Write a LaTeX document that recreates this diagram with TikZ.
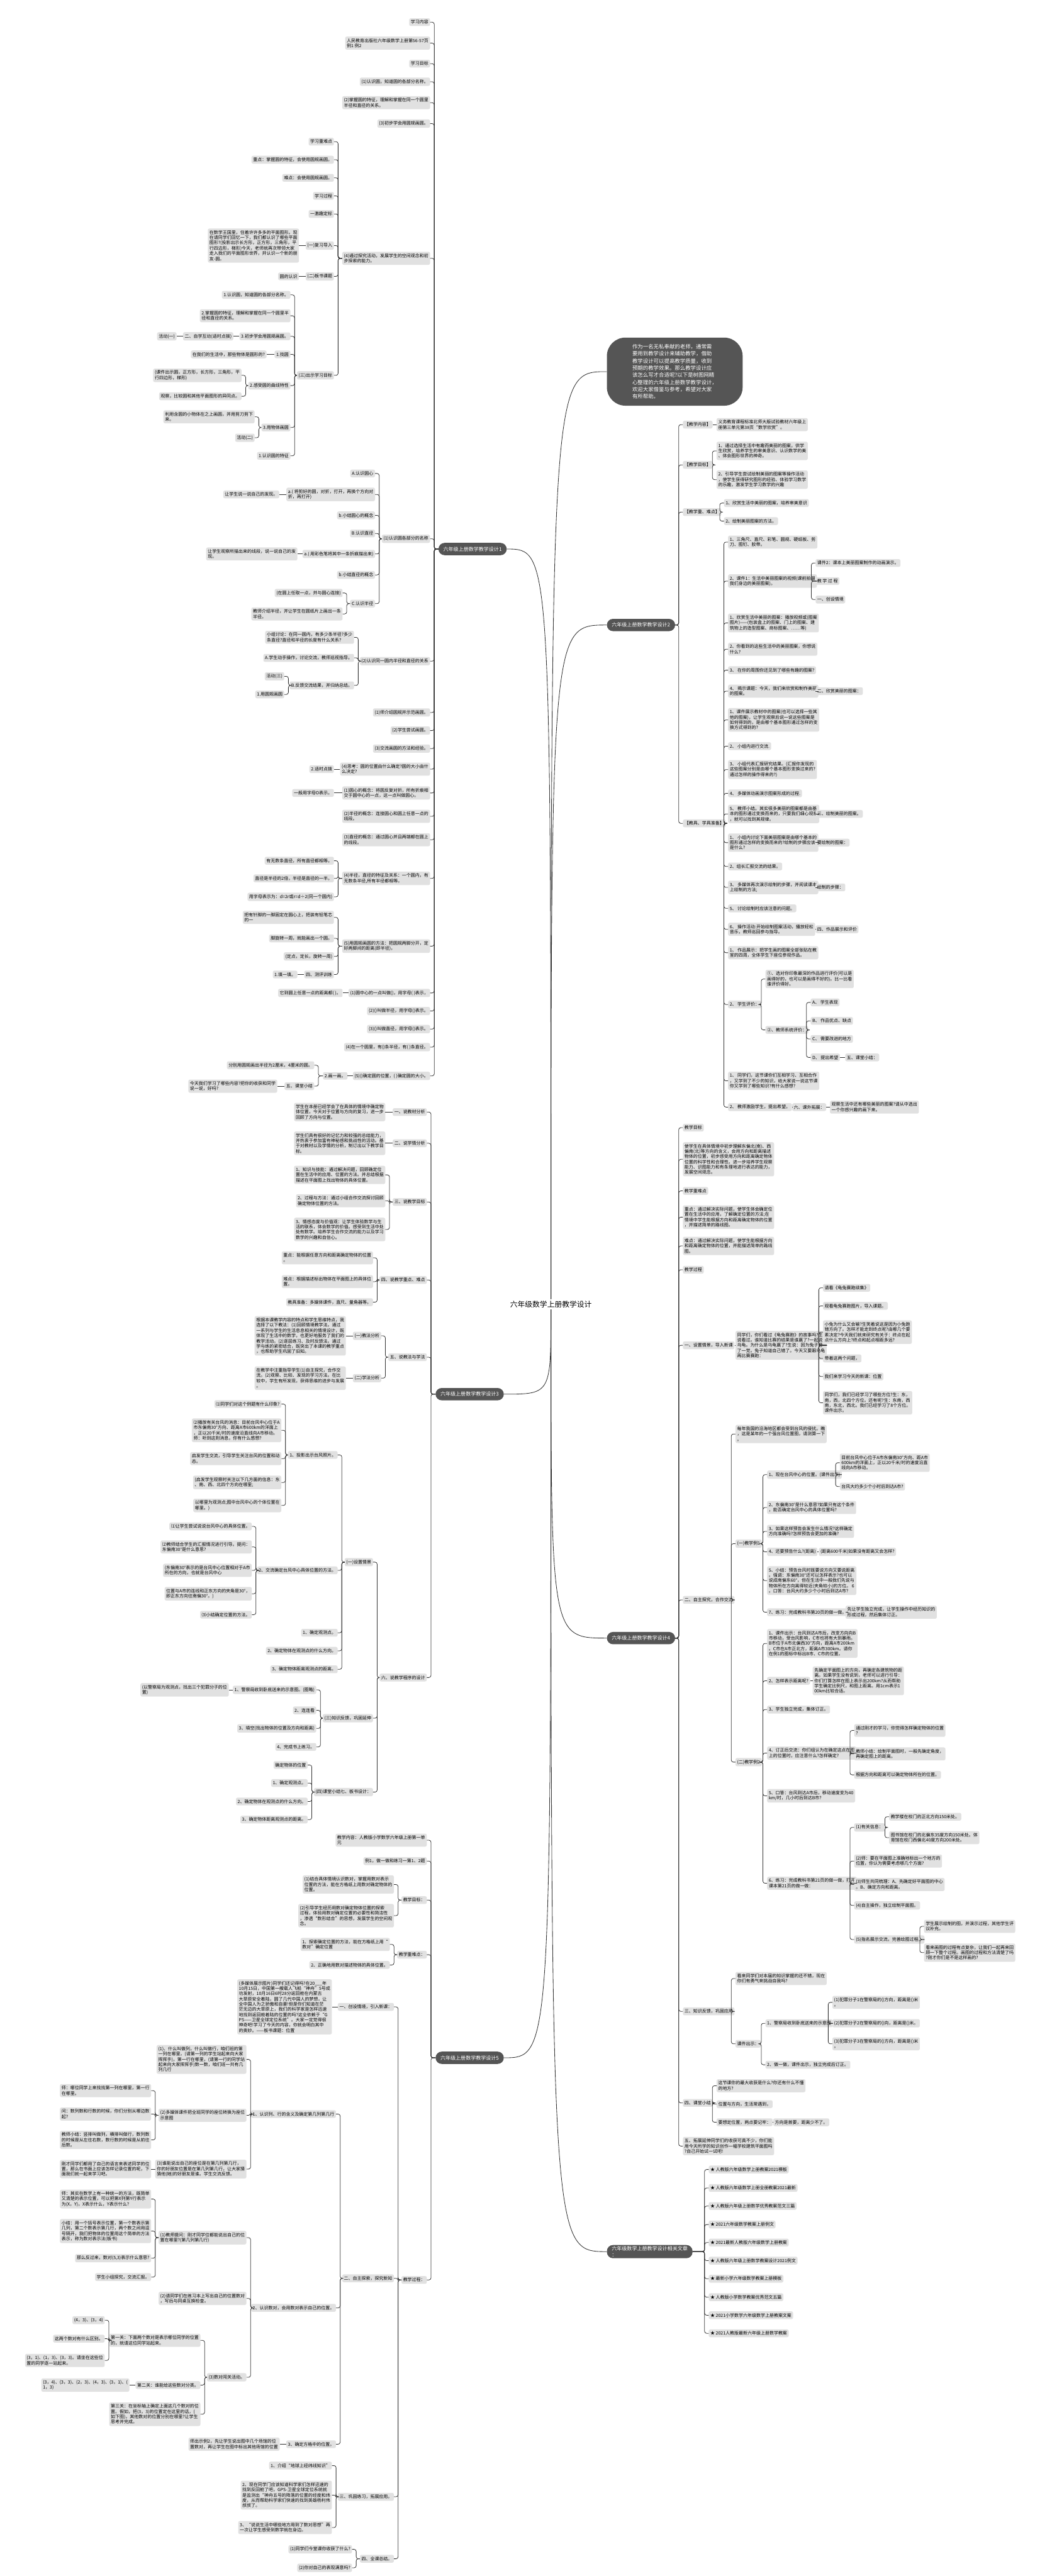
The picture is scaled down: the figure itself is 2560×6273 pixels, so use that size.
\documentclass[tikz,border=0pt]{standalone}
\usepackage{fontspec}
\setmainfont{Noto Sans CJK SC}
\usetikzlibrary{positioning}
\definecolor{boxgray}{HTML}{E1E1E1}
\definecolor{topicgray}{HTML}{555555}
\definecolor{linegray}{HTML}{333333}
\tikzset{
  lt/.style={fill=boxgray, rounded corners=4pt, align=left, anchor=east,
    inner xsep=4pt, inner ysep=4.5pt, font=\fontsize{10.7}{12.8}\selectfont},
  rt/.style={lt, anchor=west},
  topic/.style={fill=topicgray, text=white, rounded corners=15pt, align=left,
    anchor=west, minimum height=30pt, inner xsep=12pt, font=\fontsize{12.3}{15}\selectfont},
  note/.style={fill=topicgray, text=white, rounded corners=45pt, align=left,
    anchor=west, inner xsep=62pt, inner ysep=16pt, font=\fontsize{12.9}{17.4}\selectfont},
  hub/.style={inner sep=4pt, font=\fontsize{18}{22}\selectfont},
  lk/.style={draw=linegray, line width=1.2pt, rounded corners=5pt},
  trunk/.style={draw=linegray, line width=1.3pt},
}
\begin{document}
\begin{tikzpicture}[x=1pt, y=-1pt]
\fill[white] (0,0) rectangle (2560,6273);
\useasboundingbox (0,0) rectangle (2560,6273);

\node[hub] (hub) at (1341,3176) {六年级数学上册教学设计};

% ---------- intro ----------
\node[note] (dZ) at (1477,905) {作为一名无私奉献的老师，通常需\\要用到教学设计来辅助教学，借助\\教学设计可以提高教学质量，收到\\预期的教学效果。那么教学设计应\\该怎么写才合适呢?以下是树图网精\\心整理的六年级上册数学教学设计，\\欢迎大家借鉴与参考，希望对大家\\有所帮助。};

% ---------- design 1 (left) ----------
\node[topic] (dA) at (1067,1337) {六年级上册数学教学设计1};
\node[lt] (a1) at (1047,54) {学习内容};
\node[lt] (a2) at (1047,105) {人民教育出版社六年级数学上册第56-57页\\例1 例2};
\node[lt] (a3) at (1047,155) {学习目标};
\node[lt] (a4) at (1047,199) {(1)认识圆，知道圆的各部分名称。};
\node[lt] (a5) at (1047,250) {(2)掌握圆的特征，理解和掌握在同一个圆里\\半径和直径的关系。};
\node[lt] (a6) at (1047,301) {(3)初步学会用圆规画圆。};
\node[lt] (a7) at (1047,629) {(4)通过探究活动，发展学生的空间观念和初\\步探索的能力。};
\node[lt] (a7a) at (813,345) {学习重难点};
\node[lt] (a7b) at (813,389) {重点：掌握圆的特征，会使用圆规画圆。};
\node[lt] (a7c) at (813,433) {难点：会使用圆规画圆。};
\node[lt] (a7d) at (813,477) {学习过程};
\node[lt] (a7e) at (813,521) {一激趣定标};
\node[lt] (a7f) at (813,598) {(一)复习导入};
\node[lt] (a7f1) at (728,598) {在数学王国里，住着许许多多的平面图形。现\\在请同学们回忆一下，我们都认识了哪些平面\\图形?(投影出示长方形，正方形，三角形，平\\行四边形，梯形)今天，老师就再次带领大家\\走入我们的平面图形世界，并认识一个新的朋\\友-圆。};
\node[lt] (a7g) at (813,673) {(二)板书课题};
\node[lt] (a7g1) at (728,673) {圆的认识};
\node[lt] (a7h) at (813,914) {(三)出示学习目标};
\node[lt] (h1) at (707,718) {1.认识圆，知道圆的各部分名称。};
\node[lt] (h2) at (707,769) {2.掌握圆的特征，理解和掌握在同一个圆里半\\径和直径的关系。};
\node[lt] (h3) at (707,819) {3.初步学会用圆规画圆。};
\node[lt] (h3a) at (568,819) {二、自学互动(适时点拨)};
\node[lt] (h3b) at (430,819) {活动(一)};
\node[lt] (h4) at (707,863) {1.找圆};
\node[lt] (h4a) at (649,863) {在我们的生活中，那些物体是圆形的?};
\node[lt] (h5) at (707,939) {2.感受圆的曲线特性};
\node[lt] (h5a) at (588,914) {(课件出示圆，正方形，长方形，三角形，平\\行四边形，梯形)};
\node[lt] (h5b) at (588,965) {观察，比较圆和其他平面图形的异同点。};
\node[lt] (h6) at (707,1041) {3.用物体画圆};
\node[lt] (h6a) at (620,1015) {利用含圆的小物体在之上画圆，并用剪刀剪下\\来。};
\node[lt] (h6b) at (620,1066) {活动(二)};
\node[lt] (h7) at (707,1110) {1.认识圆的特征};
\node[lt] (a8) at (1047,1312) {(1)认识圆各部分的名称};
\node[lt] (b1) at (913,1153) {A.认识圆心};
\node[lt] (b2) at (913,1204) {a.( 将剪好的圆，对折，打开，再换个方向对\\折，再打开)};
\node[lt] (b2a) at (680,1204) {让学生说一说自己的发现。};
\node[lt] (b3) at (913,1255) {b.小结圆心的概念};
\node[lt] (b4) at (913,1299) {B.认识直径};
\node[lt] (b5) at (913,1349) {a.( 用彩色笔将其中一条折痕描出来)};
\node[lt] (b5a) at (724,1349) {让学生观察所描出来的线段，说一说自己的发\\现。};
\node[lt] (b6) at (913,1400) {b.小结直径的概念};
\node[lt] (b7) at (913,1470) {C.认识半径};
\node[lt] (b7a) at (834,1444) {(在圆上任取一点，并与圆心连接)};
\node[lt] (b7b) at (834,1495) {教师介绍半径，并让学生在圆纸片上画出一条\\半径。};
\node[lt] (a9) at (1047,1610) {(2)认识同一圆内半径和直径的关系};
\node[lt] (c1) at (862,1552) {小组讨论：在同一圆内，有多少条半径?多少\\条直径?直径和半径的长度有什么关系?};
\node[lt] (c2) at (862,1602) {A.学生动手操作，讨论交流，教师巡视指导。};
\node[lt] (c3) at (862,1669) {B.反馈交流结果，并归纳总结。};
\node[lt] (c3a) at (692,1647) {活动(三)};
\node[lt] (c3b) at (692,1691) {1.用圆规画圆};
\node[lt] (a10) at (1047,1735) {(1)师介绍圆规并示范画圆。};
\node[lt] (a11) at (1047,1779) {(2)学生尝试画圆。};
\node[lt] (a12) at (1047,1823) {(3)交流画圆的方法和经验。};
\node[lt] (a13) at (1047,1873) {(4)思考：圆的位置由什么确定?圆的大小由什\\么决定?};
\node[lt] (a13a) at (813,1873) {2.适时点拨};
\node[lt] (a14) at (1047,1931) {(1)圆心的概念：将圆反复对折，所有折痕相\\交于圆中心的一点，这一点叫做圆心。};
\node[lt] (a14a) at (813,1931) {一般用字母O表示。};
\node[lt] (a15) at (1047,1988) {(2)半径的概念：连接圆心和圆上任意一点的\\线段。};
\node[lt] (a16) at (1047,2045) {(3)直径的概念：通过圆心并且两端都在圆上\\的线段。};
\node[lt] (a17) at (1047,2139) {(4)半径，直径的特征及关系：一个圆内，有\\无数条半径,所有半径都相等。};
\node[lt] (a17a) at (813,2096) {有无数条直径，所有直径都相等。};
\node[lt] (a17b) at (813,2139) {直径是半径的2倍，半径是直径的一半。};
\node[lt] (a17c) at (813,2184) {用字母表示为：d=2r或r=d÷2(同一个圆内)};
\node[lt] (a18) at (1047,2304) {(5)用圆规画圆的方法：把圆规两脚分开，定\\好两脚间的距离(即半径)，};
\node[lt] (a18a) at (813,2234) {把有针脚的一脚固定在圆心上，把装有铅笔芯\\的一};
\node[lt] (a18b) at (813,2285) {脚旋转一周，就能画出一个圆。};
\node[lt] (a18c) at (813,2329) {(定点，定长，旋转一周)};
\node[lt] (a18d) at (813,2373) {四、测评训练};
\node[lt] (a18e) at (724,2373) {1.填一填。};
\node[lt] (a19) at (1047,2418) {(1)圆中心的一点叫做()，用字母( )表示，};
\node[lt] (a19a) at (834,2418) {它到圆上任意一点的距离都( )。};
\node[lt] (a20) at (1047,2462) {(2)()叫做半径，用字母()表示。};
\node[lt] (a21) at (1047,2506) {(3)()叫做直径，用字母()表示。};
\node[lt] (a22) at (1047,2550) {(4)在一个圆里，有()条半径，有( )条直径。};
\node[lt] (a23) at (1047,2620) {(5)()确定圆的位置，( )确定圆的大小。};
\node[lt] (a23a) at (846,2620) {2.画一画。};
\node[lt] (a23b) at (765,2594) {分别用圆规画出半径为2厘米，4厘米的圆。};
\node[lt] (a23c) at (765,2645) {五、课堂小结};
\node[lt] (a23d) at (675,2645) {今天我们学习了哪些内容?把你的收获和同学\\说一说，好吗?};

\foreach \k in {a1,a2,a3,a4,a5,a6,a7,a8,a9,a10,a11,a12,a13,a14,a15,a16,a17,a18,a19,a20,a21,a22,a23}
  \draw[lk] (dA.west) -| ([xshift=10pt]\k.east) -- (\k.east);
\foreach \k in {a7a,a7b,a7c,a7d,a7e,a7f,a7g,a7h}
  \draw[lk] (a7.west) -| ([xshift=10pt]\k.east) -- (\k.east);
\foreach \k in {h1,h2,h3,h4,h5,h6,h7}
  \draw[lk] (a7h.west) -| ([xshift=10pt]\k.east) -- (\k.east);
\foreach \k in {b1,b2,b3,b4,b5,b6,b7}
  \draw[lk] (a8.west) -| ([xshift=10pt]\k.east) -- (\k.east);
\foreach \k in {c1,c2,c3}
  \draw[lk] (a9.west) -| ([xshift=10pt]\k.east) -- (\k.east);
\foreach \k in {h5a,h5b} \draw[lk] (h5.west) -| ([xshift=10pt]\k.east) -- (\k.east);
\foreach \k in {h6a,h6b} \draw[lk] (h6.west) -| ([xshift=10pt]\k.east) -- (\k.east);
\foreach \k in {b7a,b7b} \draw[lk] (b7.west) -| ([xshift=10pt]\k.east) -- (\k.east);
\foreach \k in {c3a,c3b} \draw[lk] (c3.west) -| ([xshift=10pt]\k.east) -- (\k.east);
\foreach \k in {a17a,a17b,a17c} \draw[lk] (a17.west) -| ([xshift=10pt]\k.east) -- (\k.east);
\foreach \k in {a18a,a18b,a18c,a18d} \draw[lk] (a18.west) -| ([xshift=10pt]\k.east) -- (\k.east);
\foreach \k in {a23b,a23c} \draw[lk] (a23a.west) -| ([xshift=10pt]\k.east) -- (\k.east);
\foreach \p/\k in {a7f/a7f1,a7g/a7g1,h3/h3a,h3a/h3b,h4/h4a,b2/b2a,b5/b5a,a13/a13a,a14/a14a,a18d/a18e,a19/a19a,a23/a23a,a23c/a23d}
  \draw[lk] (\p.west) -- (\k.east);

% ---------- design 3 (left) ----------
\node[topic] (dC) at (1060,3395) {六年级上册数学教学设计3};
\node[lt] (e1) at (1039,2708) {一、说教材分析};
\node[lt] (e1a) at (938,2708) {学生在本册已经学会了在具体的情境中确定物\\体位置，今天对于位置与方向的复习，进一步\\回顾了方向与位置。};
\node[lt] (e2) at (1039,2784) {二、说学情分析};
\node[lt] (e2a) at (938,2784) {学生们具有很好的记忆力和较强的总结能力，\\并热衷于参加富有神秘感和挑战性的活动。基\\于对教材以及学情的分析，制订出以下教学目\\标。};
\node[lt] (e3) at (1039,2927) {三、说教学目标};
\node[lt] (e3a) at (938,2861) {1、知识与技能：通过解决问题，回顾确定位\\置在生活中的应用、位置的方法。并总结根据\\描述在平面图上找出物体的具体位置。};
\node[lt] (e3b) at (938,2924) {2、过程与方法：通过小组合作交流探讨回顾\\确定物体位置的方法。};
\node[lt] (e3c) at (938,2994) {3、情感态度与价值观：让学生体验数学与生\\活的联系，体会数学的价值。感受到生活中处\\处有数学。培养学生合作交流的能力以及学习\\数学的兴趣和自信心。};
\node[lt] (e4) at (1039,3117) {四、说教学重点、难点};
\node[lt] (e4a) at (908,3063) {重点：能根据任意方向和距离确定物体的位置\\。};
\node[lt] (e4b) at (908,3121) {难点：根据描述标出物体在平面图上的具体位\\置。};
\node[lt] (e4c) at (908,3171) {教具准备：多媒体课件，直尺、量角器等。};
\node[lt] (e5) at (1039,3305) {五、说教法与学法};
\node[lt] (e5a) at (928,3253) {(一)教法分析};
\node[lt] (e5a1) at (842,3253) {根据本课教学内容的特点和学生思维特点，我\\选择了以下教法：(1)回顾情境教学法。通过\\一系列与学生的生活息息相关的情境设计，既\\体现了生活中的数学，也更好地服务了我们的\\教学活动。(2)逐层练习、及时反馈法。通过\\学与练的紧密结合，既突出了本课的教学重点\\，也帮助学生巩固了旧知。};
\node[lt] (e5b) at (928,3356) {(二)学法分析};
\node[lt] (e5b1) at (842,3356) {在教学中注重指导学生(1)自主探究，合作交\\流。(2)观察、比较、发现的学习方法。在比\\较中，学生有所发现，获得思维的进步与发展\\。};
\node[lt] (e6) at (1039,4085) {六、说教学程序的设计};
\node[lt] (f1) at (908,3804) {(一)设置情景};
\node[lt] (f1a) at (822,3543) {1、投影出示台风照片。};
\node[lt] (f1a1) at (685,3419) {⑴同学们对这个例题有什么印象?};
\node[lt] (f1a2) at (685,3483) {⑵播放有关台风的消息：目前台风中心位于A\\市东偏南30°方向、距离A市600km的洋面上\\，正以20千米/时的速度沿直线向A市移动。\\师：听到这则消息，你有什么感想?};
\node[lt] (f1a3) at (685,3552) {启发学生交流，引导学生关注台风的位置和动\\态。};
\node[lt] (f1a4) at (685,3610) {(启发学生观察时关注以下几方面的信息：东\\、南、西、北四个方向在哪里;};
\node[lt] (f1a5) at (685,3666) {以哪里为观测点;图中台风中心的个体位置在\\哪里。)};
\node[lt] (f1b) at (822,3824) {2、交流确定台风中心具体位置的方法。};
\node[lt] (f1b1) at (613,3717) {⑴让学生尝试说说台风中心的具体位置。};
\node[lt] (f1b2) at (613,3767) {⑵教师结合学生的汇报情况进行引导。提问：\\东偏南30°是什么意思?};
\node[lt] (f1b3) at (613,3824) {(东偏南30°表示的是台风中心位置相对于A市\\所在的方向，也就是台风中心};
\node[lt] (f1b4) at (613,3881) {位置与A市的连线和正东方向的夹角是30°，\\即正东方向往南偏30°。)};
\node[lt] (f1b5) at (613,3932) {⑶小结确定位置的方法。};
\node[lt] (f1c) at (822,3976) {1、确定观测点。};
\node[lt] (f1d) at (822,4020) {2、确定物体在观测点的什么方向。};
\node[lt] (f1e) at (822,4065) {3、确定物体距离观测点的距离。};
\node[lt] (f2) at (908,4184) {(三)知识反馈，巩固延伸};
\node[lt] (f2a) at (770,4115) {1、警察局收到卧底送来的示意图。(图略)};
\node[lt] (f2a1) at (557,4115) {(以警察局为观测点，找出三个犯罪分子的位\\置)};
\node[lt] (f2b) at (770,4165) {2、连连看};
\node[lt] (f2c) at (770,4209) {3、填空(找出物体的位置及方向和距离)};
\node[lt] (f2d) at (770,4254) {4、完成书上练习。};
\node[lt] (f3) at (908,4364) {(四)课堂小结七、板书设计：};
\node[lt] (f3a) at (749,4298) {确定物体的位置};
\node[lt] (f3b) at (749,4342) {1、确定观测点。};
\node[lt] (f3c) at (749,4387) {2、确定物体在观测点的什么方向。};
\node[lt] (f3d) at (749,4431) {3、确定物体距离观测点的距离。};

\foreach \k in {e1,e2,e3,e4,e5,e6}
  \draw[lk] (dC.west) -| ([xshift=10pt]\k.east) -- (\k.east);
\foreach \k in {e3a,e3b,e3c} \draw[lk] (e3.west) -| ([xshift=10pt]\k.east) -- (\k.east);
\foreach \k in {e4a,e4b,e4c} \draw[lk] (e4.west) -| ([xshift=10pt]\k.east) -- (\k.east);
\foreach \k in {e5a,e5b} \draw[lk] (e5.west) -| ([xshift=10pt]\k.east) -- (\k.east);
\foreach \k in {f1,f2,f3} \draw[lk] (e6.west) -| ([xshift=10pt]\k.east) -- (\k.east);
\foreach \k in {f1a,f1b,f1c,f1d,f1e} \draw[lk] (f1.west) -| ([xshift=10pt]\k.east) -- (\k.east);
\foreach \k in {f1a1,f1a2,f1a3,f1a4,f1a5} \draw[lk] (f1a.west) -| ([xshift=10pt]\k.east) -- (\k.east);
\foreach \k in {f1b1,f1b2,f1b3,f1b4,f1b5} \draw[lk] (f1b.west) -| ([xshift=10pt]\k.east) -- (\k.east);
\foreach \k in {f2a,f2b,f2c,f2d} \draw[lk] (f2.west) -| ([xshift=10pt]\k.east) -- (\k.east);
\foreach \k in {f3a,f3b,f3c,f3d} \draw[lk] (f3.west) -| ([xshift=10pt]\k.east) -- (\k.east);
\foreach \p/\k in {e1/e1a,e2/e2a,e5a/e5a1,e5b/e5b1,f2a/f2a1}
  \draw[lk] (\p.west) -- (\k.east);

% ---------- design 5 (left) ----------
\node[topic] (dE) at (1060,5011) {六年级上册数学教学设计5};
\node[lt] (g1) at (1039,4481) {教学内容：人教版小学数学六年级上册第一单\\元};
\node[lt] (g2) at (1039,4532) {例1，做一做和练习一第1、2题};
\node[lt] (g3) at (1039,4627) {教学目标：};
\node[lt] (g3a) at (959,4589) {(1)结合具体情境认识数对，掌握用数对表示\\位置的方法，能在方格纸上用数对确定物体的\\位置。};
\node[lt] (g3b) at (959,4665) {(2)引导学生经历用数对确定物体位置的探索\\过程，体验用数对确定位置的必要性和简洁性\\，渗透“数形结合”的思想，发展学生的空间观\\念。};
\node[lt] (g4) at (1039,4760) {教学重难点：};
\node[lt] (g4a) at (949,4735) {1、探索确定位置的方法，能在方格纸上用“\\数对”确定位置};
\node[lt] (g4b) at (949,4785) {2、正确地用数对描述物体的具体位置。};
\node[lt] (g5) at (1039,5552) {教学过程：};
\node[lt] (p1) at (959,4887) {一、创设情境，引入新课：};
\node[lt] (p1a) at (808,4887) {(多媒体展示图片)同学们还记得吗?在20\_\_\_年\\10月15日，中国第一艘载人飞船“神舟”5号成\\功发射，10月16日6时28分返回舱在内蒙古\\大草原安全着陆，圆了几代中国人的梦想，让\\全中国人为之骄傲和自豪!但是你们知道在茫\\茫无边的大草原上，我们的科学家是怎样迅速\\地找到返回舱着陆的位置的吗?这全依赖于“G\\PS——卫星全球定位系统”。大家一定觉得很\\神奇吧!学习了今天的内容，你就会明白其中\\的奥妙。——板书课题：位置};
\node[lt] (p2) at (959,5548) {二、自主探索，探究新知};
\node[lt] (q1) at (818,5148) {1、认识列、行的含义及确定第几列第几行};
\node[lt] (q1a) at (600,5015) {(1)、什么叫做列，什么叫做行，咱们班的第\\一列在哪里，(请第一列的学生站起来向大家\\挥挥手)，第一行在哪里，(请第一行的同学站\\起来向大家挥挥手)数一数，咱们班一共有几\\列几行};
\node[lt] (q1b) at (600,5151) {(2)多媒体课件把全班同学的座位转换为座位\\示意图};
\node[lt] (q1b1) at (368,5091) {师：哪位同学上来找找第一列在哪里，第一行\\在哪里。};
\node[lt] (q1b2) at (368,5148) {问：数列数和行数的时候，你们分别从哪边数\\起?};
\node[lt] (q1b3) at (368,5211) {教师小结：竖排叫做列，横排叫做行，数列数\\的时候是从左往右数，数行数的时候是从前往\\后数。};
\node[lt] (q1c) at (600,5282) {(3)谁能说出自己的座位是在第几列第几行，\\你的好朋友位置是在第几列第几行，让大家猜\\猜他(她)的好朋友是谁。学生交流反馈。};
\node[lt] (q1c1) at (368,5282) {刚才同学们都用了自己的语言来表述同学的位\\置，那么在书面上应该怎样记录位置的呢，下\\面我们就一起来学习吧。};
\node[lt] (q2) at (818,5620) {2、认识数对，会用数对表示自己的位置。};
\node[lt] (q2a) at (600,5449) {(1)教师提问：刚才同学位都能说出自己的位\\置在哪里?(第几列第几行)};
\node[lt] (q2a1) at (368,5355) {师：其实在数学上有一种统一的方法，既简单\\又清楚的表示位置，可以把第X列第Y行表示\\为(X，Y)，X表示什么，Y表示什么?};
\node[lt] (q2a2) at (368,5433) {小结：用一个括号表示位置，第一个数表示第\\几列，第二个数表示第几行，两个数之间用逗\\号隔开，我们把物体的位置用这个简单的方法\\表示，称为数对表示法(板书)};
\node[lt] (q2a3) at (368,5499) {那么反过来，数对(5,3)表示什么意思?};
\node[lt] (q2a4) at (368,5545) {学生小组探究，交流汇报。};
\node[lt] (q2b) at (600,5597) {(2)请同学们在练习本上写出自己的位置数对\\，写后与同桌互换检查。};
\node[lt] (q2c) at (600,5789) {(3)数对闯关活动。};
\node[lt] (q2c1) at (488,5699) {第一关：下面两个数对是表示哪位同学的位置\\的，就请这位同学站起来。};
\node[lt] (q2c1a) at (255,5650) {(4，3)、(3，4)};
\node[lt] (q2c1b) at (255,5695) {这两个数对有什么区别。};
\node[lt] (q2c1c) at (255,5748) {(3，1)、(1，3)、(3，3)。请坐在这些位\\置的同学逐一站起来。};
\node[lt] (q2c2) at (488,5808) {第二关：谁能给这些数对分类。};
\node[lt] (q2c2a) at (315,5808) {(3，4)、(3，3)、(2，3)、(4，3)、(3，1)、(\\1，3)};
\node[lt] (q2c3) at (488,5879) {第三关：在坐标轴上确定上面这几个数对的位\\置。假如，把(3，3)的位置定在这里的话，(\\如下图)，其他数对的位置分别在哪里?让学生\\思考并完成。};
\node[lt] (q3) at (818,5952) {3、确定方格中的位置。};
\node[lt] (q3a) at (681,5952) {师出示例2，先让学生说出图中几个场馆的位\\置数对，再让学生在图中标出其他场馆的位置};
\node[lt] (p3) at (959,6080) {三、巩固练习，拓展应用。};
\node[lt] (p3a) at (808,6004) {1、介绍“地球上经纬线知识”};
\node[lt] (p3b) at (808,6076) {2、现在同学门应该知道科学家们怎样迅速的\\找到反回舱了吧，GPS-卫星全球定位系统就\\是监测出“神舟五号的降落的位置的经度和纬\\度，从而帮助科学家们快速的找到英雄杨利伟\\叔叔了。};
\node[lt] (p3c) at (808,6155) {3、“说说生活中哪些地方用到了数对思想”再\\一次让学生感受到数学就在身边。};
\node[lt] (p4) at (959,6231) {四、全课总结。};
\node[lt] (p4a) at (857,6208) {(1)同学们今堂课你收获了什么?};
\node[lt] (p4b) at (857,6253) {(2)你对自己的表现满意吗?};

\foreach \k in {g1,g2,g3,g4,g5}
  \draw[lk] (dE.west) -| ([xshift=10pt]\k.east) -- (\k.east);
\foreach \k in {g3a,g3b} \draw[lk] (g3.west) -| ([xshift=10pt]\k.east) -- (\k.east);
\foreach \k in {g4a,g4b} \draw[lk] (g4.west) -| ([xshift=10pt]\k.east) -- (\k.east);
\foreach \k in {p1,p2,p3,p4} \draw[lk] (g5.west) -| ([xshift=10pt]\k.east) -- (\k.east);
\foreach \k in {q1,q2,q3} \draw[lk] (p2.west) -| ([xshift=10pt]\k.east) -- (\k.east);
\foreach \k in {q1a,q1b,q1c} \draw[lk] (q1.west) -| ([xshift=10pt]\k.east) -- (\k.east);
\foreach \k in {q1b1,q1b2,q1b3} \draw[lk] (q1b.west) -| ([xshift=10pt]\k.east) -- (\k.east);
\foreach \k in {q2a,q2b,q2c} \draw[lk] (q2.west) -| ([xshift=10pt]\k.east) -- (\k.east);
\foreach \k in {q2a1,q2a2,q2a3,q2a4} \draw[lk] (q2a.west) -| ([xshift=10pt]\k.east) -- (\k.east);
\foreach \k in {q2c1,q2c2,q2c3} \draw[lk] (q2c.west) -| ([xshift=10pt]\k.east) -- (\k.east);
\foreach \k in {q2c1a,q2c1b,q2c1c} \draw[lk] (q2c1.west) -| ([xshift=10pt]\k.east) -- (\k.east);
\foreach \k in {p3a,p3b,p3c} \draw[lk] (p3.west) -| ([xshift=10pt]\k.east) -- (\k.east);
\foreach \k in {p4a,p4b} \draw[lk] (p4.west) -| ([xshift=10pt]\k.east) -- (\k.east);
\foreach \p/\k in {p1/p1a,q1c/q1c1,q2c2/q2c2a,q3/q3a}
  \draw[lk] (\p.west) -- (\k.east);

% ---------- design 2 (right) ----------
\node[topic] (dB) at (1477,1522) {六年级上册数学教学设计2};
\node[rt] (r1) at (1662,1034) {【教学内容】};
\node[rt] (r1a) at (1744,1034) {义务教育课程标准北师大版试验教材六年级上\\册第三单元第38页“数学欣赏”。};
\node[rt] (r2) at (1662,1132) {【教学目标】};
\node[rt] (r2a) at (1744,1098) {1、通过选择生活中有趣而美丽的图案，供学\\生欣赏，培养学生的审美意识、认识数学的美\\、体会图形世界的神奇。};
\node[rt] (r2b) at (1744,1168) {2、引导学生尝试绘制美丽的图案等操作活动\\，使学生获得研究图形的经验、体验学习数学\\的乐趣，激发学生学习数学的兴趣};
\node[rt] (r3) at (1662,1247) {【教学重、难点】};
\node[rt] (r3a) at (1762,1225) {1、欣赏生活中美丽的图案，培养审美意识};
\node[rt] (r3b) at (1762,1269) {2、绘制美丽图案的方法。};
\node[rt] (r4) at (1662,2005) {【教具、学具准备】};
\node[rt] (s1) at (1772,1320) {1、三角尺、直尺、彩笔、圆规、硬纸板、剪\\刀、图钉、胶带。};
\node[rt] (s2) at (1772,1415) {2、课件1：生活中美丽图案的视频(课前拍摄\\我们身边的美丽图案)。};
\node[rt] (s2a) at (1985,1371) {课件2：课本上美丽图案制作的动画演示。};
\node[rt] (s2b) at (1985,1415) {教 学 过 程};
\node[rt] (s2c) at (1985,1460) {一、创设情境};
\node[rt] (s3) at (1772,1517) {1、欣赏生活中美丽的图案：播放视频或(图案\\图片)——(包装盒上的图案、门上的图案、建\\筑物上的造型图案、商标图案、……等)};
\node[rt] (s4) at (1772,1581) {2、你看到的这些生活中的美丽图案，你想说\\什么?};
\node[rt] (s5) at (1772,1632) {3、 在你的周围你还见到了哪些有趣的图案?};
\node[rt] (s6) at (1772,1683) {4、 揭示课题：今天，我们来欣赏和制作美丽\\的图案。};
\node[rt] (s6a) at (1985,1683) {二、欣赏美丽的图案：};
\node[rt] (s7) at (1772,1753) {1、课件展示教材中的图案(也可以选择一些其\\他的图案)，让学生观察后说一说这些图案是\\如何得到的，是由哪个基本图形通过怎样的变\\换方式得到的?};
\node[rt] (s8) at (1772,1817) {2、 小组内进行交流.};
\node[rt] (s9) at (1772,1874) {3、 小组代表汇报研究结果。(汇报你发现的\\这些图案分别是由哪个基本图形变换过来的?\\通过怎样的操作得来的?)};
\node[rt] (s10) at (1772,1932) {4、 多媒体动画演示图案形成的过程.};
\node[rt] (s11) at (1772,1982) {5、 教师小结。其实很多美丽的图案都是由基\\本的图形通过变换而来的，只要我们细心观察\\，就可以找到其规律。};
\node[rt] (s11a) at (1985,1982) {三、绘制美丽的图案。};
\node[rt] (s12) at (1772,2052) {1、 小组内讨论下面美丽图案是由哪个基本的\\图形通过怎样的变换而来的?绘制的步骤应该\\是什么?};
\node[rt] (s12a) at (1985,2052) {要绘制的图案：};
\node[rt] (s13) at (1772,2110) {2、组长汇报交流的结果。};
\node[rt] (s14) at (1772,2161) {3、 多媒体再次演示绘制的步骤，并阅读课本\\上绘制的方法;};
\node[rt] (s14a) at (1985,2161) {绘制的步骤：};
\node[rt] (s15) at (1772,2212) {5、 讨论绘制时应该注意的问题。};
\node[rt] (s16) at (1772,2263) {6、 操作活动:开始绘制图案活动，播放轻松\\音乐，教师巡回参与指导。};
\node[rt] (s16a) at (1985,2263) {四、作品展示和评价};
\node[rt] (s17) at (1772,2320) {1、 作品展示：把学生画的图案全部张贴在教\\室的四周，全体学生下座位参观作品。};
\node[rt] (s18) at (1772,2446) {2、 学生评价：};
\node[rt] (s18a) at (1863,2384) {①、选对你印象最深的作品进行评价(可以是\\画得好的，也可以是画得不好的)。比一比看\\谁评价得好。};
\node[rt] (s18b) at (1863,2508) {②、教师系统评价：};
\node[rt] (s18b1) at (1973,2441) {A、 学生表现};
\node[rt] (s18b2) at (1973,2486) {B、 作品优点、缺点};
\node[rt] (s18b3) at (1973,2530) {C、 需要改进的地方};
\node[rt] (s18b4) at (1973,2575) {D、 提出希望};
\node[rt] (s18b5) at (2057,2575) {五、课堂小结：};
\node[rt] (s19) at (1772,2632) {1、 同学们，这节课你们互相学习、互相合作\\，又学到了不少的知识，给大家说一说这节课\\你又学到了哪些知识?有什么感想?};
\node[rt] (s20) at (1772,2696) {2、 教师激励学生，提出希望。};
\node[rt] (s20a) at (1928,2696) {六、课外拓展：};
\node[rt] (s20b) at (2020,2696) {观察生活中还有哪些美丽的图案?请从中选出\\一个你感兴趣的画下来。};

\foreach \k in {r1,r2,r3,r4}
  \draw[lk] (dB.east) -| ([xshift=-10pt]\k.west) -- (\k.west);
\foreach \k in {r2a,r2b} \draw[lk] (r2.east) -| ([xshift=-10pt]\k.west) -- (\k.west);
\foreach \k in {r3a,r3b} \draw[lk] (r3.east) -| ([xshift=-10pt]\k.west) -- (\k.west);
\foreach \k in {s1,s2,s3,s4,s5,s6,s7,s8,s9,s10,s11,s12,s13,s14,s15,s16,s17,s18,s19,s20}
  \draw[lk] (r4.east) -| ([xshift=-10pt]\k.west) -- (\k.west);
\foreach \k in {s2a,s2b,s2c} \draw[lk] (s2.east) -| ([xshift=-10pt]\k.west) -- (\k.west);
\foreach \k in {s18a,s18b} \draw[lk] (s18.east) -| ([xshift=-10pt]\k.west) -- (\k.west);
\foreach \k in {s18b1,s18b2,s18b3,s18b4} \draw[lk] (s18b.east) -| ([xshift=-10pt]\k.west) -- (\k.west);
\foreach \p/\k in {r1/r1a,s6/s6a,s11/s11a,s12/s12a,s14/s14a,s16/s16a,s18b4/s18b5,s20/s20a,s20a/s20b}
  \draw[lk] (\p.east) -- (\k.west);

% ---------- design 4 (right) ----------
\node[topic] (dD) at (1477,3989) {六年级上册数学教学设计4};
\node[rt] (t1) at (1662,2746) {教学目标};
\node[rt] (t2) at (1662,2823) {使学生在具体情境中初步理解东偏北(南)、西\\偏南(北)等方向的含义，会用方向和距离描述\\物体的位置，初步感受用方向和距离确定物体\\位置的科学性和合理性。进一步培养学生观察\\能力、识图能力和有条理地进行表达的能力，\\发展空间观念。};
\node[rt] (t3) at (1662,2900) {教学重难点};
\node[rt] (t4) at (1662,2964) {重点：通过解决实际问题，使学生体会确定位\\置在生活中的应用，了解确定位置的方法;在\\情境中学生能根据方向和距离确定物体的位置\\，并描述简单的路线图。};
\node[rt] (t5) at (1662,3034) {难点：通过解决实际问题，使学生能根据方向\\和距离确定物体的位置，并能描述简单的路线\\图。};
\node[rt] (t6) at (1662,3092) {教学过程};
\node[rt] (t7) at (1662,3276) {一、设置情景，导入新课};
\node[rt] (t7a) at (1790,3276) {同学们，你们看过《龟兔赛跑》的故事吗?生\\说看过。谁知道比赛的结果是谁赢了?一起说\\乌龟。为什么是乌龟赢了?生说：因为兔子睡\\了一觉。兔子知道自己错了。今天又要跟乌龟\\再比赛赛跑：};
\node[rt] (t7a1) at (2003,3136) {请看《龟兔赛跑续集》};
\node[rt] (t7a2) at (2003,3180) {观看龟兔赛跑图片，导入课题。};
\node[rt] (t7a3) at (2003,3244) {小兔为什么又会输?生笑着说这是因为小兔跑\\错方向了。怎样才能走到终点呢?由哪几个要\\素决定?今天我们就来研究有关于：终点在起\\点什么方向上?终点和起点相距多远?};
\node[rt] (t7a4) at (2003,3308) {带着这两个问题，};
\node[rt] (t7a5) at (2003,3352) {我们来学习今天的新课：位置};
\node[rt] (t7a6) at (2003,3416) {同学们，我们已经学习了哪些方位?生：东，\\南，西，北四个方位。还有呢?生：东南，西\\南，东北，西北。我们已经学习了8个方位。\\课件出示。};
\node[rt] (t8) at (1662,3896) {二、自主探究，合作交流};
\node[rt] (u1) at (1790,3492) {每年我国的沿海地区都会受到台风的侵扰。瞧\\，这是某年的一个强台风位置图，请测算一下\\。};
\node[rt] (u2) at (1790,3759) {(一)教学例1};
\node[rt] (v1) at (1867,3591) {1、现在台风中心的位置。(课件出示)};
\node[rt] (v1a) at (2044,3562) {目前台风中心位于A市东偏南30°方向、距A市\\600km的洋面上，正以20千米/时的速度沿直\\线向A市移动。};
\node[rt] (v1b) at (2044,3620) {台风大约多少个小时后到达A市?};
\node[rt] (v2) at (1867,3671) {2、东偏南30°是什么意思?如果只有这个条件\\，能否确定台风中心的具体位置吗?};
\node[rt] (v3) at (1867,3729) {3、如果这样预告会发生什么情况?这样确定\\方向准确吗?怎样预告会更加的准确?};
\node[rt] (v4) at (1867,3779) {4、还要预告什么?(距离)};
\node[rt] (v4a) at (1993,3779) {(距离600千米)如果没有距离又会怎样?};
\node[rt] (v5) at (1867,3849) {5、小结：预告台风时既要说方向又要说距离\\。强调：东偏南30°还可以怎样表示?也可以\\说成南偏东60°，但在生活中一般我们先说与\\物体所在方向离得较近(夹角较小)的方位。 6\\。口答：台风大约多少个小时后到达A市?};
\node[rt] (v6) at (1867,3926) {7、练习：完成教科书第20页的做一做。};
\node[rt] (v6a) at (2058,3926) {先让学生独立完成，让学生操作中经历知识的\\形成过程，然后集体订正。};
\node[rt] (u3) at (1790,4291) {(二)教学例2};
\node[rt] (w1) at (1867,4002) {1、课件出示：台风到达A市后，改变方向向B\\市移动，受台风影响，C市也将有大到暴雨。\\B市位于A市北偏西30°方向，距离A市200km\\。C市在A市正北方，距离A市300km。请你\\在例1的图标中标出B市、C市的位置。};
\node[rt] (w2) at (1867,4093) {2、怎样表示距离呢?};
\node[rt] (w2a) at (1978,4093) {先确定平面图上的方向，再确定各建筑物的距\\离。如果学生没有说到，老师可以进行引导：\\你们打算怎样在图上表示出200km?从而帮助\\学生确定比例尺，和图上距离。用1cm表示1\\00km比较合适。};
\node[rt] (w3) at (1867,4163) {3、学生独立完成，集体订正。};
\node[rt] (w4) at (1867,4269) {4、订正后交流：你们组认为在确定这点在图\\上的位置时，应注意什么?怎样确定?};
\node[rt] (w4a) at (2079,4214) {通过刚才的学习，你觉得怎样确定物体的位置\\?};
\node[rt] (w4b) at (2079,4271) {教师小结：绘制平面图时，一般先确定角度，\\再确定图上的距离。};
\node[rt] (w4c) at (2079,4322) {根据方向和距离可以确定物体所在的位置。};
\node[rt] (w5) at (1867,4373) {5、口答：台风到达A市后，移动速度变为40\\km/时，几小时后到达B市?};
\node[rt] (w6) at (1867,4586) {6、练习：完成教科书第21页的做一做，打开\\课本第21页的做一做：};
\node[rt] (x1) at (2079,4450) {(1)有关信息：};
\node[rt] (x1a) at (2164,4424) {教学楼在校门的正北方向150米处。};
\node[rt] (x1b) at (2164,4475) {图书馆在校门的北偏东35度方向150米处。体\\育馆在校门西偏北40度方向200米处。};
\node[rt] (x2) at (2079,4532) {(2)师：要在平面图上准确地标出一个地方的\\位置，你认为需要考虑哪几个方面?};
\node[rt] (x3) at (2079,4589) {(3)师生共同梳理：A、先确定好平面图的中心\\。B、确定方向和距离。};
\node[rt] (x4) at (2079,4640) {(4)自主操作，独立绘制平面图。};
\node[rt] (x5) at (2079,4723) {(5)指名展示交流，完善绘图过程。};
\node[rt] (x5a) at (2249,4691) {学生展示绘制的图，并演示过程，其他学生评\\议补充。};
\node[rt] (x5b) at (2249,4755) {看来画图的过程有点复杂，让我们一起再来回\\顾一下整个过程。画图的过程和方法清楚了吗\\?刚才你们是不是这样画的?};
\node[rt] (t9) at (1662,4898) {三、知识反馈，巩固应用};
\node[rt] (y1) at (1790,4818) {看来同学们对本届的知识掌握的还不错，现在\\你们有勇气来挑战自我吗?};
\node[rt] (y2) at (1790,4977) {课件出示：};
\node[rt] (y2a) at (1863,4927) {1、警察局收到卧底送来的示意图};
\node[rt] (y2a1) at (2026,4876) {(1)犯罪分子1在警察局的()方向，距离是()米\\。};
\node[rt] (y2a2) at (2026,4927) {(2)犯罪分子2在警察局的()向，距离是()米。};
\node[rt] (y2a3) at (2026,4977) {(3)犯罪分子3在警察局的()方向，距离是()米\\。};
\node[rt] (y2b) at (1863,5028) {2、做一做，课件出示，独立完成后订正。};
\node[rt] (t10) at (1662,5121) {四、课堂小结};
\node[rt] (t10a) at (1744,5079) {这节课你的最大收获是什么?你还有什么不懂\\的地方?};
\node[rt] (t10b) at (1744,5124) {位置与方向，生活常遇到，};
\node[rt] (t10c) at (1744,5168) {要想定位置，两点要记牢：};
\node[rt] (t10d) at (1882,5168) {方向是首要，距离少不了。};
\node[rt] (t11) at (1662,5226) {五、拓展延伸同学们的收获可真不少，你们能\\用今天所学的知识创作一幅学校建筑平面图吗\\?自己开始试一试吧!};

\foreach \k in {t1,t2,t3,t4,t5,t6,t7,t8,t9,t10,t11}
  \draw[lk] (dD.east) -| ([xshift=-10pt]\k.west) -- (\k.west);
\foreach \k in {t7a1,t7a2,t7a3,t7a4,t7a5,t7a6} \draw[lk] (t7a.east) -| ([xshift=-10pt]\k.west) -- (\k.west);
\foreach \k in {u1,u2,u3} \draw[lk] (t8.east) -| ([xshift=-10pt]\k.west) -- (\k.west);
\foreach \k in {v1,v2,v3,v4,v5,v6} \draw[lk] (u2.east) -| ([xshift=-10pt]\k.west) -- (\k.west);
\foreach \k in {v1a,v1b} \draw[lk] (v1.east) -| ([xshift=-10pt]\k.west) -- (\k.west);
\foreach \k in {w1,w2,w3,w4,w5,w6} \draw[lk] (u3.east) -| ([xshift=-10pt]\k.west) -- (\k.west);
\foreach \k in {w4a,w4b,w4c} \draw[lk] (w4.east) -| ([xshift=-10pt]\k.west) -- (\k.west);
\foreach \k in {x1,x2,x3,x4,x5} \draw[lk] (w6.east) -| ([xshift=-10pt]\k.west) -- (\k.west);
\foreach \k in {x1a,x1b} \draw[lk] (x1.east) -| ([xshift=-10pt]\k.west) -- (\k.west);
\foreach \k in {x5a,x5b} \draw[lk] (x5.east) -| ([xshift=-10pt]\k.west) -- (\k.west);
\foreach \k in {y1,y2} \draw[lk] (t9.east) -| ([xshift=-10pt]\k.west) -- (\k.west);
\foreach \k in {y2a,y2b} \draw[lk] (y2.east) -| ([xshift=-10pt]\k.west) -- (\k.west);
\foreach \k in {y2a1,y2a2,y2a3} \draw[lk] (y2a.east) -| ([xshift=-10pt]\k.west) -- (\k.west);
\foreach \k in {t10a,t10b,t10c} \draw[lk] (t10.east) -| ([xshift=-10pt]\k.west) -- (\k.west);
\foreach \p/\k in {t7/t7a,v4/v4a,v6/v6a,w2/w2a,t10c/t10d}
  \draw[lk] (\p.east) -- (\k.west);

% ---------- related articles (right) ----------
\node[topic] (dF) at (1477,5483) {六年级数学上册教学设计相关文章\\：};
\node[rt] (st1) at (1725,5283) {★ 人教版六年级数学上册教案2021模板};
\node[rt] (st2) at (1725,5328) {★ 人教版六年级数学上册全册教案2021最新};
\node[rt] (st3) at (1725,5372) {★ 人教版六年级上册数学优秀教案范文三篇};
\node[rt] (st4) at (1725,5417) {★ 2021六年级数学教案上册例文};
\node[rt] (st5) at (1725,5461) {★ 2021最新人教版六年级数学上册教案};
\node[rt] (st6) at (1725,5505) {★ 人教版六年级上册数学教案设计2021例文};
\node[rt] (st7) at (1725,5549) {★ 最新小学六年级数学教案上册模板};
\node[rt] (st8) at (1725,5594) {★ 人教版小学数学教案优秀范文五篇};
\node[rt] (st9) at (1725,5638) {★ 2021小学数学六年级数学上册教案文案};
\node[rt] (st10) at (1725,5682) {★ 2021人教版最新六年级上册数学教案};
\foreach \k in {st1,st2,st3,st4,st5,st6,st7,st8,st9,st10}
  \draw[lk] (dF.east) -| ([xshift=-10pt]\k.west) -- (\k.west);

% ---------- trunk curves ----------
\foreach \t in {dZ,dB}
  \draw[trunk] (hub.north) .. controls (hub.north |- \t.west) .. (\t.west);
\draw[trunk] (hub.north) .. controls (hub.north |- dA.east) .. (dA.east);
\foreach \t in {dD,dF}
  \draw[trunk] (hub.south) .. controls (hub.south |- \t.west) .. (\t.west);
\foreach \t in {dC,dE}
  \draw[trunk] (hub.south) .. controls (hub.south |- \t.east) .. (\t.east);
\end{tikzpicture}
\end{document}
